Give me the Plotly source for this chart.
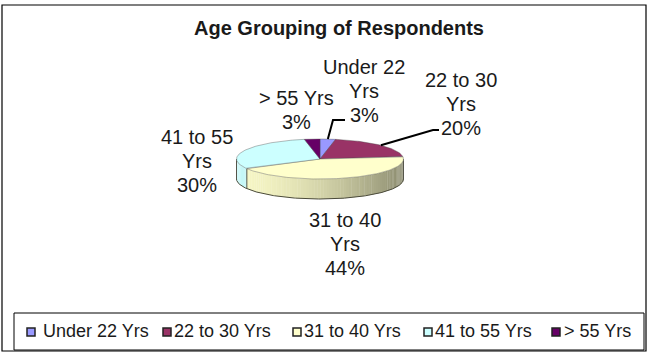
import numpy as np
import plotly.graph_objects as go

# ---- data -------------------------------------------------------------
categories = ["Under 22 Yrs", "22 to 30 Yrs", "31 to 40 Yrs", "41 to 55 Yrs", "> 55 Yrs"]
shares = [3, 20, 44, 30, 3]
label_names = ["Under 22<br>Yrs", "22 to 30<br>Yrs", "31 to 40<br>Yrs", "41 to 55<br>Yrs", "> 55 Yrs"]
title_text = "Age Grouping of Respondents"

# ---- styling ----------------------------------------------------------
slice_colors = ["#9999FF", "#993366", "#FFFFCC", "#CCFFFF", "#660066"]
FONT = "Liberation Sans, Arial, sans-serif"
TEXT_COLOR = "#1a1a1a"
W, H = 649, 352

# ellipse geometry of the tilted pie (in pixel units of the canvas axes)
CX, CY, RX, RY, DEPTH = 320.0, 159.0, 83.5, 20.0, 20.0

# label placement (centre of the text block, first-line y) and leader elbows
label_pos = [(364, 67), (461, 80), (345, 220), (197, 137), (296, 98)]
leader_elbow = {0: [(333, 120), (345, 120)], 1: [(433, 130), (439, 130)]}
LINE_STEP = 24

# legend row layout: swatch centres and text start positions
legend_swatch_x = [31, 167, 297, 428, 556]
legend_text_x = [41, 172, 302, 433, 562]
LEGEND_Y = 332


def hex_rgb(h):
    h = h.lstrip("#")
    return [int(h[i:i + 2], 16) for i in (0, 2, 4)]


def shade(h, f):
    r, g, b = (min(255, int(round(c * f))) for c in hex_rgb(h))
    return f"rgb({r},{g},{b})"


def top_xy(theta_deg):
    t = np.radians(theta_deg)
    return CX + RX * np.sin(t), CY - RY * np.cos(t)


fig = go.Figure()

total = float(sum(shares))
bounds = np.concatenate([[0.0], np.cumsum(shares) / total * 360.0])

# ---- side wall (front half only: 90..270 degrees clockwise from top) ----
for i, col in enumerate(slice_colors):
    a0, a1 = max(bounds[i], 90.0), min(bounds[i + 1], 270.0)
    if a1 <= a0:
        continue
    n = max(2, int(np.ceil((a1 - a0) / 2.0)))
    edges = np.linspace(a0, a1, n + 1)
    for s0, s1 in zip(edges[:-1], edges[1:]):
        mid = np.radians(0.5 * (s0 + s1))
        f = 0.97 - 0.42 * ((1 + np.sin(mid)) / 2) ** 1.6
        ang = np.linspace(s0, s1 + 0.3 if s1 < a1 else s1, 4)
        xs, ys = top_xy(ang)
        px = list(xs) + list(xs[::-1]) + [xs[0]]
        py = list(ys) + list(ys[::-1] + DEPTH) + [ys[0]]
        fig.add_trace(go.Scatter(x=px, y=py, mode="lines", fill="toself",
                                 fillcolor=shade(col, f), line=dict(width=0),
                                 hoverinfo="skip", showlegend=False))

# outline of the wall: bottom rim, end posts and slice seams
ang = np.linspace(90, 270, 181)
xs, ys = top_xy(ang)
fig.add_trace(go.Scatter(x=list(xs), y=list(ys + DEPTH), mode="lines",
                         line=dict(color="#4a4a3a", width=1),
                         hoverinfo="skip", showlegend=False))
for b in list(bounds[1:-1]) + [90.0, 270.0]:
    if 90.0 <= b <= 270.0:
        x0, y0 = top_xy(b)
        fig.add_trace(go.Scatter(x=[x0, x0], y=[y0, y0 + DEPTH], mode="lines",
                                 line=dict(color="#55554a", width=1),
                                 hoverinfo="skip", showlegend=False))

# ---- top face ----------------------------------------------------------
for i, col in enumerate(slice_colors):
    ang = np.linspace(bounds[i], bounds[i + 1], max(3, int(shares[i] * 3)))
    xs, ys = top_xy(ang)
    px = [CX] + list(xs) + [CX]
    py = [CY] + list(ys) + [CY]
    fig.add_trace(go.Scatter(x=px, y=py, mode="lines", fill="toself",
                             fillcolor=col, line=dict(color="rgba(70,70,70,0.55)", width=0.7),
                             hoverinfo="text", text=f"{categories[i]}: {shares[i]}%",
                             showlegend=False))

# ---- leader lines --------------------------------------------------------
for i, pts in leader_elbow.items():
    mid = 0.5 * (bounds[i] + bounds[i + 1])
    x0, y0 = top_xy(mid)
    lx = [x0] + [p[0] for p in pts]
    ly = [y0] + [p[1] for p in pts]
    fig.add_trace(go.Scatter(x=lx, y=ly, mode="lines", line=dict(color="black", width=2),
                             hoverinfo="skip", showlegend=False))

# ---- data labels -------------------------------------------------------
for i, (name, v) in enumerate(zip(label_names, shares)):
    lines = name.split("<br>") + [f"{v}%"]
    lx, ly = label_pos[i]
    for k, ln in enumerate(lines):
        fig.add_annotation(x=lx, y=ly + k * LINE_STEP, text=ln, showarrow=False,
                           xanchor="center", yanchor="middle",
                           font=dict(family=FONT, size=20, color=TEXT_COLOR))

# ---- legend row ----------------------------------------------------------
fig.add_trace(go.Scatter(x=legend_swatch_x, y=[LEGEND_Y] * len(categories), mode="markers",
                         marker=dict(symbol="square", size=8, color=slice_colors,
                                     line=dict(color="#222222", width=1.5)),
                         text=categories, hoverinfo="text", showlegend=False))
for cat, tx in zip(categories, legend_text_x):
    fig.add_annotation(x=tx, y=LEGEND_Y - 1, text=cat, showarrow=False,
                       xanchor="left", yanchor="middle",
                       font=dict(family=FONT, size=18, color=TEXT_COLOR))

# title
fig.add_annotation(x=339, y=28, text=f"<b>{title_text}</b>", showarrow=False,
                   xanchor="center", yanchor="middle",
                   font=dict(family=FONT, size=20, color=TEXT_COLOR))

# chart frame and legend box
fig.add_shape(type="rect", x0=2, y0=5, x1=646, y1=351, line=dict(color="black", width=1.2))
fig.add_shape(type="rect", x0=14, y0=313, x1=644, y1=350, line=dict(color="black", width=1))

fig.update_layout(
    width=W, height=H, margin=dict(l=0, r=0, t=0, b=0),
    paper_bgcolor="white", plot_bgcolor="white",
    xaxis=dict(range=[0, W], visible=False, fixedrange=True),
    yaxis=dict(range=[H, 0], visible=False, fixedrange=True),
    showlegend=False,
)

fig.write_html("out.html")
